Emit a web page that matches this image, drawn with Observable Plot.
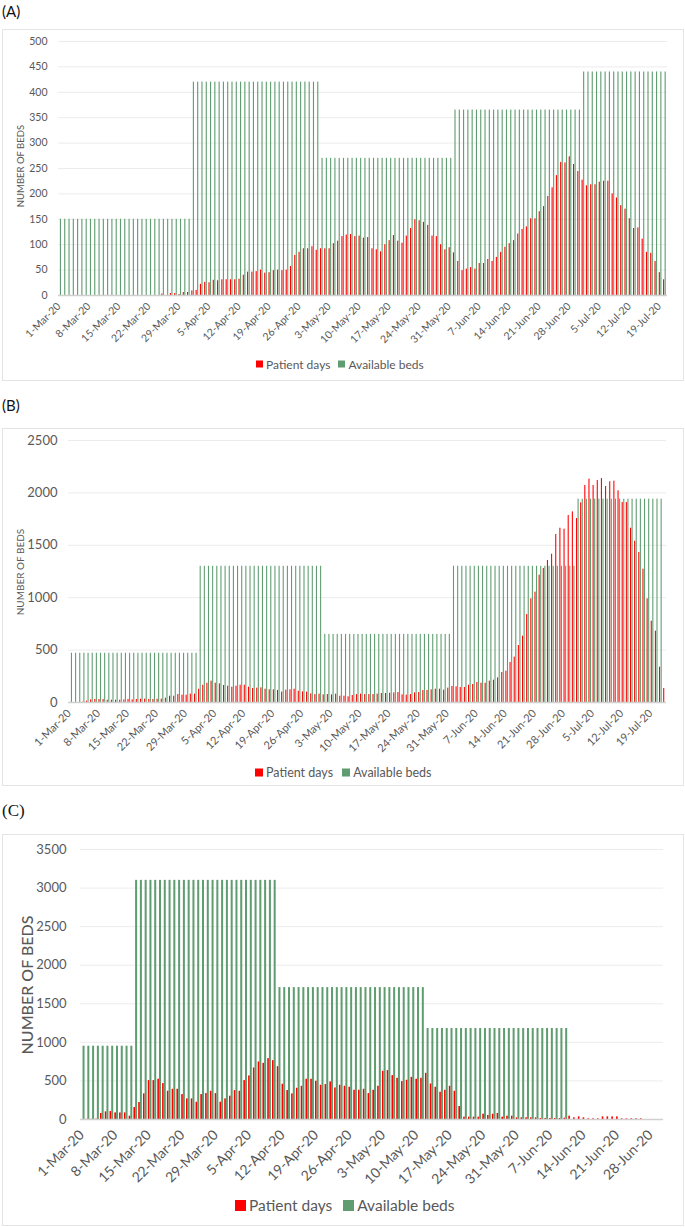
<!DOCTYPE html>
<html><head><meta charset="utf-8">
<script src="https://cdn.jsdelivr.net/npm/d3@7"></script>
<script src="https://cdn.jsdelivr.net/npm/@observablehq/plot@0.6"></script>
<style>
body{margin:0;background:#fff;font-family:Lato,"Open Sans",sans-serif;}
#page{position:relative;width:685px;height:1227px;overflow:hidden;background:#fff;}
.frame{position:absolute;border:1.5px solid #e4e4e4;box-sizing:border-box;}
.plabel{position:absolute;left:2px;color:#111;}
.ytitle{position:absolute;transform:translate(-50%,-50%) rotate(-90deg);white-space:nowrap;color:#595959;}
.legend{position:absolute;display:flex;align-items:center;color:#595959;white-space:nowrap;transform:translateY(-50%);}
.sw{display:inline-block;margin-right:3px;}
.chart{position:absolute;left:0;}
</style></head><body><div id="page"></div>
<script>
// ---------- DATA ----------
const GREEN = "#5f9d70";
const RED = "#ff0000";

// Panel A: 1-Mar-20 .. 20-Jul-20 (daily)
const patientA = [0,0,0,0,0,0,0,0,0,0,0,0,0,0,0,0,0,0,0,0,0,0,0,0,
3,0,4,4,2,6,6,
9,10,22,26,25,30,29,31,31,31,31,32,40,46,46,47,50,44,45,49,50,49,50,57,79,85,92,92,96,89,
92,92,92,102,107,116,119,120,116,117,113,114,92,90,86,100,108,118,107,103,117,132,149,147,144,138,117,116,100,90,94,
84,67,49,52,55,52,63,63,71,67,75,85,95,102,108,121,130,135,151,151,165,175,195,212,236,262,261,273,258,244,
227,216,218,218,223,225,225,200,192,177,170,151,132,133,111,85,83,67,45,31];
const bedsA = [150,150,150,150,150,150,150,150,150,150,150,150,150,150,150,150,150,150,150,150,150,150,150,150,150,150,150,150,150,150,150,
420,420,420,420,420,420,420,420,420,420,420,420,420,420,420,420,420,420,420,420,420,420,420,420,420,420,420,420,420,420,
270,270,270,270,270,270,270,270,270,270,270,270,270,270,270,270,270,270,270,270,270,270,270,270,270,270,270,270,270,270,270,
365,365,365,365,365,365,365,365,365,365,365,365,365,365,365,365,365,365,365,365,365,365,365,365,365,365,365,365,365,365,
440,440,440,440,440,440,440,440,440,440,440,440,440,440,440,440,440,440,440,440];
const yTicksA = [0,50,100,150,200,250,300,350,400,450,500];
const xTicksA = ["2020-03-01","2020-03-08","2020-03-15","2020-03-22","2020-03-29","2020-04-05","2020-04-12","2020-04-19","2020-04-26","2020-05-03","2020-05-10","2020-05-17","2020-05-24","2020-05-31","2020-06-07","2020-06-14","2020-06-21","2020-06-28","2020-07-05","2020-07-12","2020-07-19"];

// Panel B: 1-Mar-20 .. 22-Jul-20 (daily)
const patientB = [0,0,0,3,
13,25,29,29,29,22,22,22,22,25,29,25,29,32,32,29,29,32,32,41,60,60,76,70,70,80,80,
127,165,184,204,184,178,162,156,146,156,165,165,146,134,137,140,127,121,121,115,99,118,121,127,108,102,99,83,76,80,
73,76,73,80,60,60,54,67,75,80,
76,76,76,80,86,86,89,92,95,73,70,76,92,95,115,115,121,127,127,118,137,
153,150,143,143,165,172,191,184,184,204,213,235,286,299,382,433,544,633,840,989,1053,1215,1279,1355,1415,1603,1663,1654,1784,1819,
1756,1905,2071,2131,2071,2118,2137,2061,2106,2112,2020,1908,1908,1663,1539,1431,1272,989,776,681,337,134];
const bedsB = [470,470,470,470,470,470,470,470,470,470,470,470,470,470,470,470,470,470,470,470,470,470,470,470,470,470,470,470,470,470,470,
1300,1300,1300,1300,1300,1300,1300,1300,1300,1300,1300,1300,1300,1300,1300,1300,1300,1300,1300,1300,1300,1300,1300,1300,1300,1300,1300,1300,1300,1300,
650,650,650,650,650,650,650,650,650,650,650,650,650,650,650,650,650,650,650,650,650,650,650,650,650,650,650,650,650,650,650,
1300,1300,1300,1300,1300,1300,1300,1300,1300,1300,1300,1300,1300,1300,1300,1300,1300,1300,1300,1300,1300,1300,1300,1300,1300,1300,1300,1300,1300,1300,
1940,1940,1940,1940,1940,1940,1940,1940,1940,1940,1940,1940,1940,1940,1940,1940,1940,1940,1940,1940,1940,0];
const yTicksB = [0,500,1000,1500,2000,2500];
const xTicksB = xTicksA;

// Panel C: 1-Mar-20 .. 30-Jun-20 (daily)
const patientC = [0,3,3,5,
78,99,103,86,86,86,43,155,220,332,504,504,522,466,366,392,392,323,267,267,224,323,336,366,336,224,267,302,375,366,504,565,668,746,728,789,763,685,457,375,332,405,431,522,522,496,444,453,487,409,444,431,418,379,379,392,336,379,
431,625,634,569,534,491,509,547,522,534,599,461,418,353,379,431,366,168,30,30,30,30,69,52,69,78,30,43,43,22,22,22,22,22,13,13,13,13,13,17,43,22,34,22,9,9,9,34,34,34,34,9,9,9,9,9,
0,0,0,0];
const bedsC = [950,950,950,950,950,950,950,950,950,950,950,
3100,3100,3100,3100,3100,3100,3100,3100,3100,3100,3100,3100,3100,3100,3100,3100,3100,3100,3100,3100,3100,3100,3100,3100,3100,3100,3100,3100,3100,3100,
1710,1710,1710,1710,1710,1710,1710,1710,1710,1710,1710,1710,1710,1710,1710,1710,1710,1710,1710,1710,1710,1710,1710,1710,1710,1710,1710,1710,1710,1710,1710,
1180,1180,1180,1180,1180,1180,1180,1180,1180,1180,1180,1180,1180,1180,1180,1180,1180,1180,1180,1180,1180,1180,1180,1180,1180,1180,1180,1180,1180,1180,
0,0,0,0,0,0,0,0,0,0,0,0,0,0,0,0,0,0,0,0];
const yTicksC = [0,500,1000,1500,2000,2500,3000,3500];
const xTicksC = ["2020-03-01","2020-03-08","2020-03-15","2020-03-22","2020-03-29","2020-04-05","2020-04-12","2020-04-19","2020-04-26","2020-05-03","2020-05-10","2020-05-17","2020-05-24","2020-05-31","2020-06-07","2020-06-14","2020-06-21","2020-06-28"];

const seriesNames = ["Patient days", "Available beds"];

// ---------- DRAWING ----------
const page = document.getElementById("page");
const DAY = 864e5;
const shift = (d, f) => new Date(+d + f * DAY);
const fmt = d3.utcFormat("%-d-%b-%y");
const yFmt = d3.format("d");

function el(tag, cls, style, html) {
  const e = document.createElement(tag);
  if (cls) e.className = cls;
  if (style) e.style.cssText = style;
  if (html != null) e.innerHTML = html;
  page.appendChild(e);
  return e;
}

function panel(cfg) {
  const rows = cfg.patient.map((v, i) => ({date: new Date(Date.UTC(2020, 2, 1 + i)), patient: v, beds: cfg.beds[i]}));
  const d0 = rows[0].date, d1 = shift(rows[rows.length - 1].date, 1);
  const svg = Plot.plot({
    width: 685, height: cfg.height,
    marginLeft: cfg.ml, marginRight: cfg.mr, marginTop: cfg.mt, marginBottom: cfg.mb,
    style: {fontFamily: "Lato, sans-serif", background: "transparent", color: "#595959", overflow: "visible"},
    x: {type: "utc", domain: [d0, d1]},
    y: {domain: [0, cfg.yTicks[cfg.yTicks.length - 1]]},
    marks: [
      Plot.ruleY(cfg.yTicks.filter(t => t > 0), {stroke: "#ececec", strokeWidth: 1}),
      Plot.rectY(rows, {x1: d => shift(d.date, cfg.redOff[0]), x2: d => shift(d.date, cfg.redOff[1]), y: "patient", fill: RED}),
      Plot.rectY(rows, {x1: d => shift(d.date, cfg.greenOff[0]), x2: d => shift(d.date, cfg.greenOff[1]), y: "beds", fill: GREEN}),
      Plot.ruleY([0], {stroke: "#d0d0d0", strokeWidth: 1.5}),
      Plot.axisY(cfg.yTicks, {tickSize: 0, tickPadding: cfg.yPad, tickFormat: yFmt, fontSize: cfg.yFont, color: "#595959", label: null}),
      Plot.axisX(cfg.xTicks.map(s => shift(new Date(s + "T00:00:00Z"), cfg.tickOff)), {
        tickSize: 0, tickPadding: cfg.xPad, tickRotate: -45, tickFormat: fmt,
        fontSize: cfg.xFont, color: "#595959", label: null
      })
    ]
  });
  svg.classList.add("chart");
  svg.style.top = cfg.top + "px";
  page.appendChild(svg);
}

function legend(x, y, size, sq) {
  el("div", "legend", `left:${x}px;top:${y}px;font-size:${size}px`,
    `<span class="sw" style="width:${sq}px;height:${sq}px;background:${RED}"></span>${seriesNames[0]}` +
    `<span class="sw" style="margin-left:${Math.round(size*0.7)}px;width:${sq}px;height:${sq}px;background:${GREEN}"></span>${seriesNames[1]}`);
}

// Panel A
el("div", "plabel", "top:2px;font-size:15px;font-family:Lato,sans-serif", "(A)");
el("div", "frame", "left:2px;top:29px;width:682px;height:352px");
panel({patient: patientA, beds: bedsA, yTicks: yTicksA, xTicks: xTicksA, top: 29, height: 322,
  ml: 58, mr: 18, mt: 12, mb: 56, yPad: 11, yFont: 10.5, xFont: 10.5, xPad: 9, tickOff: 0.1,
  redOff: [0.08, 0.34], greenOff: [0.44, 0.70]});
el("div", "ytitle", "left:20px;top:166px;font-size:9.5px", "NUMBER OF BEDS");
legend(256, 364, 12, 7);

// Panel B
el("div", "plabel", "top:396px;font-size:15px;font-family:Lato,sans-serif", "(B)");
el("div", "frame", "left:2px;top:428px;width:682px;height:358px");
panel({patient: patientB, beds: bedsB, yTicks: yTicksB, xTicks: xTicksB, top: 428, height: 330,
  ml: 68, mr: 19, mt: 12, mb: 56, yPad: 11, yFont: 13, xFont: 11, xPad: 9, tickOff: 0.2,
  redOff: [0.32, 0.58], greenOff: [0.70, 0.96]});
el("div", "ytitle", "left:20px;top:572px;font-size:10px", "NUMBER OF BEDS");
legend(255, 772, 12.5, 8);

// Panel C
el("div", "plabel", "top:801px;font-size:17px;font-family:'Liberation Serif',serif", "(C)");
el("div", "frame", "left:2px;top:834px;width:682px;height:392px");
panel({patient: patientC, beds: bedsC, yTicks: yTicksC, xTicks: xTicksC, top: 834, height: 356,
  ml: 80, mr: 22, mt: 15, mb: 71, yPad: 14, yFont: 13, xFont: 14, xPad: 13, tickOff: 0.3,
  redOff: [0.18, 0.52], greenOff: [0.53, 0.95]});
el("div", "ytitle", "left:26px;top:985px;font-size:16px;font-weight:500", "NUMBER OF BEDS");
legend(235, 1205, 15.5, 11);
</script></body></html>
